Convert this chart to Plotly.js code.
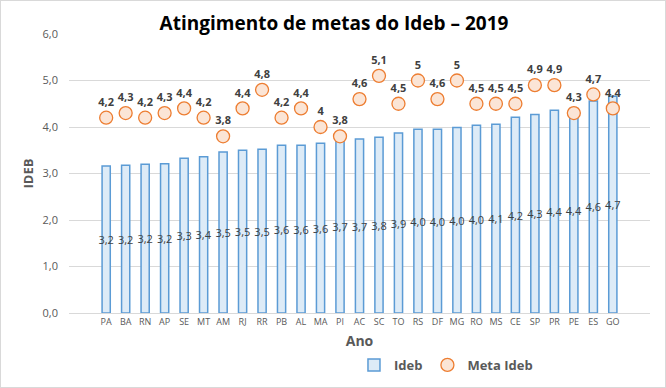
<!DOCTYPE html>
<html>
<head>
<meta charset="utf-8">
<script src="https://cdn.plot.ly/plotly-3.0.1.min.js"></script>
<style>
html,body{margin:0;padding:0;background:#fff;}
#chart{width:666px;height:388px;box-sizing:border-box;border:1px solid #d9d9d9;}
</style>
</head>
<body>
<div id="chart"></div>
<script>
const estados = ["PA","BA","RN","AP","SE","MT","AM","RJ","RR","PB","AL","MA","PI","AC","SC","TO","RS","DF","MG","RO","MS","CE","SP","PR","PE","ES","GO"];
const ideb = [3.16,3.18,3.20,3.21,3.33,3.36,3.46,3.50,3.52,3.61,3.61,3.65,3.74,3.74,3.78,3.87,3.95,3.95,3.99,4.04,4.06,4.21,4.27,4.36,4.40,4.56,4.66];
const metaIdeb = [4.2,4.3,4.2,4.3,4.4,4.2,3.8,4.4,4.8,4.2,4.4,4.0,3.8,4.6,5.1,4.5,5.0,4.6,5.0,4.5,4.5,4.5,4.9,4.9,4.3,4.7,4.4];

const font = "Open Sans, Lato, sans-serif";
const traces = [
  {
    type: "bar",
    name: "Ideb",
    x: estados,
    y: ideb,
    marker: {color: "#DDEBF7", line: {color: "#5B9BD5", width: 1.5}},
    texttemplate: "%{y:.1f}",
    textposition: "inside",
    insidetextanchor: "middle",
    constraintext: "none",
    textangle: 0,
    textfont: {family: font, size: 11, color: "#404040"},
    hoverinfo: "x+y"
  },
  {
    type: "scatter",
    mode: "markers+text",
    name: "Meta Ideb",
    x: estados,
    y: metaIdeb,
    text: metaIdeb.map(v => String(v).replace(".", ",")),
    marker: {symbol: "circle", size: 13, color: "#FBE5D6", line: {color: "#ED7D31", width: 1.3}},
    textposition: "top center",
    textfont: {family: font, size: 11, color: "#404040", weight: "bold"},
    cliponaxis: false
  }
];

const layout = {
  width: 666, height: 388,
  margin: {l: 68, r: 17, t: 33, b: 76, autoexpand: false},
  paper_bgcolor: "rgba(0,0,0,0)",
  plot_bgcolor: "#ffffff",
  separators: ",.",
  bargap: 0.58,
  showlegend: true,
  title: {text: "Atingimento de metas do Ideb – 2019", x: 0.5, xanchor: "center", y: 0.96, yanchor: "top",
          font: {family: font, size: 19, color: "#000000", weight: "bold"}},
  xaxis: {
    type: "category",
    automargin: false,
    tickfont: {family: font, size: 9, color: "#595959"},
    showgrid: false,
    showline: true, linecolor: "#d9d9d9", linewidth: 1,
    ticks: "",
    title: {text: "Ano", font: {family: font, size: 14, color: "#595959", weight: "bold"}, standoff: 18},
    fixedrange: true
  },
  yaxis: {
    range: [0, 6],
    dtick: 1,
    automargin: false,
    tickformat: ".1f",
    tickfont: {family: font, size: 11, color: "#595959"},
    ticklabelstandoff: 10,
    gridcolor: "#d9d9d9",
    zeroline: false,
    ticks: "",
    ticklen: 0,
    title: {text: "IDEB", font: {family: font, size: 13, color: "#595959", weight: "bold"}, standoff: 6},
    fixedrange: true
  },
  legend: {
    orientation: "h",
    xref: "container", yref: "container",
    x: 0.53, xanchor: "left",
    y: 0.062, yanchor: "middle",
    font: {family: font, size: 13, color: "#595959", weight: "bold"},
    itemwidth: 30,
    traceorder: "normal"
  }
};

Plotly.newPlot("chart", traces, layout, {displayModeBar: false, staticPlot: true});
</script>
</body>
</html>
